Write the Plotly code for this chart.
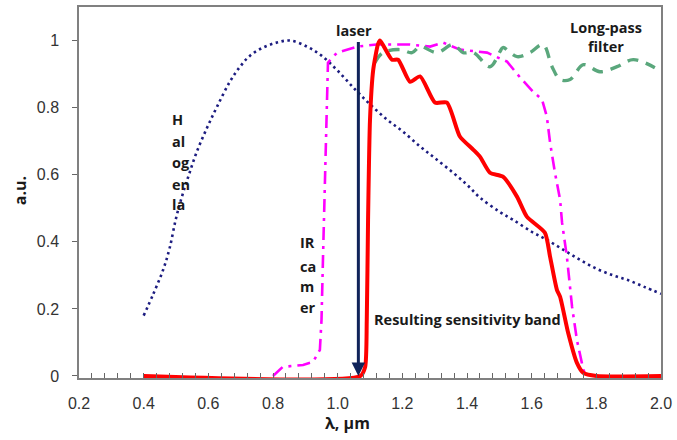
import plotly.graph_objects as go

# ---------------- data ----------------
halogen_x = [0.40, 0.43, 0.46, 0.48, 0.50, 0.52, 0.54, 0.565, 0.596, 0.627, 0.667, 0.698, 0.729, 0.769,
             0.812, 0.853, 0.905, 0.95, 1.00, 1.054, 1.10, 1.153, 1.20, 1.255, 1.30, 1.357, 1.40, 1.44,
             1.50, 1.542, 1.60, 1.647, 1.70, 1.75, 1.80, 1.852, 1.90, 1.95, 2.00]
halogen_y = [0.18, 0.245, 0.316, 0.38, 0.47, 0.54, 0.60, 0.67, 0.74, 0.803, 0.878, 0.922, 0.955, 0.979,
             0.994, 1.00, 0.982, 0.955, 0.91, 0.854, 0.81, 0.764, 0.73, 0.684, 0.65, 0.606, 0.57, 0.532,
             0.49, 0.466, 0.43, 0.406, 0.375, 0.346, 0.32, 0.30, 0.285, 0.265, 0.245]

camera_x = [0.80, 0.83, 0.893, 0.924, 0.945, 0.95, 0.955, 0.96, 0.967, 0.97, 0.998, 1.06, 1.12, 1.224,
            1.286, 1.326, 1.378, 1.44, 1.462, 1.524, 1.564, 1.604, 1.632, 1.647, 1.657, 1.672, 1.688,
            1.694, 1.709, 1.725, 1.74, 1.76, 1.77]
camera_y = [0.0, 0.027, 0.033, 0.042, 0.078, 0.167, 0.367, 0.565, 0.764, 0.934, 0.964, 0.982, 0.988, 0.988,
            0.982, 0.994, 0.973, 0.967, 0.964, 0.937, 0.89, 0.848, 0.824, 0.773, 0.695, 0.606, 0.525,
            0.457, 0.355, 0.206, 0.107, 0.018, 0.0]

filter_x = [1.115, 1.14, 1.193, 1.23, 1.255, 1.307, 1.357, 1.388, 1.42, 1.471, 1.502, 1.511, 1.555,
            1.595, 1.635, 1.663, 1.688, 1.719, 1.76, 1.811, 1.864, 1.914, 1.981]
filter_y = [0.934, 0.964, 0.973, 0.964, 0.982, 0.964, 0.988, 0.964, 0.964, 0.922, 0.967, 0.979, 0.952,
            0.964, 0.988, 0.922, 0.884, 0.884, 0.928, 0.907, 0.922, 0.943, 0.919]

band_x = [0.40, 1.07, 1.085, 1.09, 1.094, 1.10, 1.11, 1.125, 1.131, 1.168, 1.187, 1.224, 1.255, 1.301,
          1.338, 1.378, 1.419, 1.44, 1.471, 1.511, 1.555, 1.585, 1.641, 1.657, 1.678, 1.688, 1.713,
          1.74, 1.76, 1.80, 2.00]
band_y = [0.0, 0.0, 0.027, 0.167, 0.466, 0.764, 0.913, 0.99, 1.0, 0.943, 0.943, 0.877, 0.893, 0.815,
          0.815, 0.714, 0.675, 0.654, 0.606, 0.594, 0.534, 0.475, 0.427, 0.355, 0.257, 0.236, 0.128,
          0.039, 0.009, 0.0, 0.0]

laser_wavelength = 1.064
laser_top = 1.0

x_ticks = [0.2, 0.4, 0.6, 0.8, 1.0, 1.2, 1.4, 1.6, 1.8, 2.0]
y_ticks = [0, 0.2, 0.4, 0.6, 0.8, 1.0]
y_tick_text = ["0", "0.2", "0.4", "0.6", "0.8", "1"]

# ---------------- figure ----------------
fig = go.Figure()

fig.add_trace(go.Scatter(x=halogen_x, y=halogen_y, mode="lines",
                         line=dict(color="#1c1c80", width=2.6, dash="2.5px,3.5px", shape="spline"),
                         hoverinfo="skip"))
fig.add_trace(go.Scatter(x=camera_x, y=camera_y, mode="lines",
                         line=dict(color="#ff00ff", width=2.6, dash="13px,6px,3px,6px"),
                         hoverinfo="skip"))
fig.add_trace(go.Scatter(x=filter_x, y=filter_y, mode="lines",
                         line=dict(color="#5aa77c", width=3.4, dash="11px,8px", shape="spline"),
                         hoverinfo="skip"))
fig.add_trace(go.Scatter(x=band_x, y=band_y, mode="lines",
                         line=dict(color="#ff0000", width=4, shape="spline", smoothing=0.6),
                         hoverinfo="skip"))

ann_font = dict(family="Open Sans", size=14.5, color="#1a1a1a")
annotations = [
    dict(x=laser_wavelength, y=0, ax=laser_wavelength, ay=laser_top, xref="x", yref="y",
         axref="x", ayref="y", text="", showarrow=True, arrowhead=2, arrowsize=0.9,
         arrowwidth=3, arrowcolor="#10235a"),
    dict(x=1.05, y=1.03, text="<b>laser</b>", showarrow=False, font=ann_font, xref="x", yref="y"),
    dict(x=1.83, y=1.01, text="<b>Long-pass<br>filter</b>", showarrow=False, font=ann_font,
         xref="x", yref="y"),
    dict(x=1.106, y=0.167, text="<b>Resulting sensitivity band</b>", showarrow=False, font=ann_font,
         xref="x", yref="y", xanchor="left"),
]
for txt, yy in zip(["H", "al", "og", "en", "la"], [0.764, 0.699, 0.636, 0.570, 0.510]):
    annotations.append(dict(x=0.481, y=yy, text="<b>%s</b>" % txt, showarrow=False, font=ann_font,
                            xref="x", yref="y", xanchor="left"))
for txt, yy in zip(["IR", "ca", "m", "er"], [0.397, 0.325, 0.266, 0.203]):
    annotations.append(dict(x=0.877, y=yy, text="<b>%s</b>" % txt, showarrow=False, font=ann_font,
                            xref="x", yref="y", xanchor="left"))
annotations.append(dict(x=0.462, y=-0.122, xref="paper", yref="paper", text="<b>λ, μm</b>",
                        xanchor="center", yanchor="middle",
                        showarrow=False, font=dict(family="Open Sans", size=16, color="#1a1a1a")))
annotations.append(dict(x=-0.101, y=0.504, xref="paper", yref="paper", text="<b>a.u.</b>",
                        xanchor="center", yanchor="middle",
                        textangle=-90, showarrow=False, font=dict(family="Open Sans", size=16, color="#1a1a1a")))

fig.update_layout(
    width=677, height=440,
    margin=dict(l=79, r=16, t=7, b=62, autoexpand=False),
    paper_bgcolor="white", plot_bgcolor="white",
    showlegend=False,
    annotations=annotations,
    xaxis=dict(range=[0.2, 2.0], tickmode="array", tickvals=x_ticks,
               ticktext=["%.1f" % v for v in x_ticks],
               ticks="inside", ticklen=5, tickcolor="#666666", tickwidth=1,
               minor=dict(dtick=0.04, tick0=0.2, ticks="inside", ticklen=5, tickcolor="#666666",
                          showgrid=False),
               showgrid=False, zeroline=False, showline=True, linecolor="#808080", linewidth=1.5,
               mirror=True, ticklabelstandoff=10,
               tickfont=dict(family="Liberation Sans", size=16, color="#333333")),
    yaxis=dict(range=[-0.006, 1.1], tickmode="array", tickvals=y_ticks, ticktext=y_tick_text,
               ticks="outside", ticklen=5, tickcolor="#666666",
               showgrid=False, zeroline=False, showline=True, linecolor="#808080", linewidth=1.5,
               mirror=True, ticklabelstandoff=10,
               tickfont=dict(family="Liberation Sans", size=16, color="#333333")),
)

fig.write_html("out.html", config={"displayModeBar": False},
               post_script="document.body.style.margin='0';")
